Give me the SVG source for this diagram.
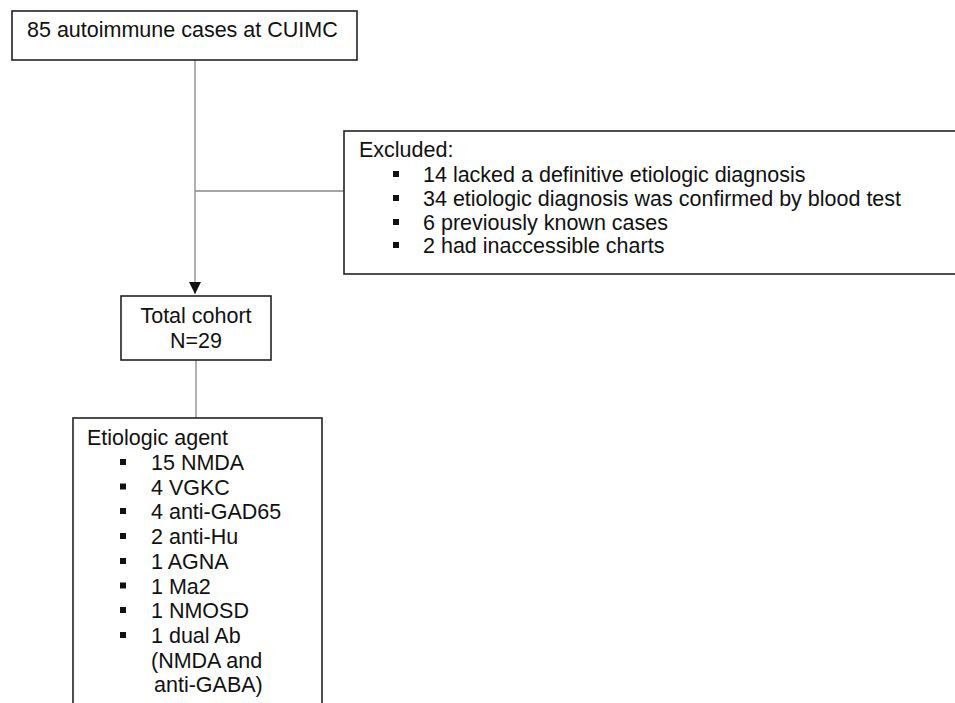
<svg xmlns="http://www.w3.org/2000/svg" width="955" height="703" viewBox="0 0 955 703">
<style>
.box{fill:#fff;stroke:#222;stroke-width:1.6}
.t{font-family:"Liberation Sans",Arial,sans-serif;font-size:21.5px;fill:#111}
.c{fill:none;stroke:#888;stroke-width:1.3}
.b{fill:#111}
</style>
<defs>
<marker id="arr" markerWidth="12" markerHeight="12" refX="10" refY="5" orient="auto" markerUnits="userSpaceOnUse" viewBox="0 0 10 10">
<path d="M0,0 L10,5 L0,10 Z" fill="#111"/>
</marker>
</defs>
<rect width="955" height="703" fill="#fff"/>
<g id="connectors">
<line class="c" x1="195" y1="60" x2="195" y2="294" marker-end="url(#arr)"/>
<line class="c" x1="195" y1="191" x2="344" y2="191"/>
<line class="c" x1="196" y1="360" x2="196" y2="418"/>
</g>
<g id="node-start">
<rect class="box" x="12" y="11" width="345" height="49"/>
<text class="t" x="27" y="37">85 autoimmune cases at CUIMC</text>
</g>
<g id="node-excluded">
<rect class="box" x="344" y="131" width="630" height="143"/>
<text class="t" x="359" y="157">Excluded:</text>
<rect class="b" x="393" y="171" width="6" height="6"/>
<text class="t" x="423" y="182">14 lacked a definitive etiologic diagnosis</text>
<rect class="b" x="393" y="195" width="6" height="6"/>
<text class="t" x="423" y="206">34 etiologic diagnosis was confirmed by blood test</text>
<rect class="b" x="393" y="219" width="6" height="6"/>
<text class="t" x="423" y="230">6 previously known cases</text>
<rect class="b" x="393" y="242" width="6" height="6"/>
<text class="t" x="423" y="253">2 had inaccessible charts</text>
</g>
<g id="node-cohort">
<rect class="box" x="121" y="296" width="150" height="64"/>
<text class="t" x="196" y="323" text-anchor="middle">Total cohort</text>
<text class="t" x="196" y="348" text-anchor="middle">N=29</text>
</g>
<g id="node-agent">
<rect class="box" x="73" y="418" width="249" height="300"/>
<text class="t" x="87" y="445">Etiologic agent</text>
<rect class="b" x="120" y="459" width="6" height="6"/>
<text class="t" x="151" y="470">15 NMDA</text>
<rect class="b" x="120" y="483.5" width="6" height="6"/>
<text class="t" x="151" y="494.5">4 VGKC</text>
<rect class="b" x="120" y="508" width="6" height="6"/>
<text class="t" x="151" y="519">4 anti-GAD65</text>
<rect class="b" x="120" y="533" width="6" height="6"/>
<text class="t" x="151" y="544">2 anti-Hu</text>
<rect class="b" x="120" y="558" width="6" height="6"/>
<text class="t" x="151" y="569">1 AGNA</text>
<rect class="b" x="120" y="582.5" width="6" height="6"/>
<text class="t" x="151" y="593.5">1 Ma2</text>
<rect class="b" x="120" y="607" width="6" height="6"/>
<text class="t" x="151" y="618">1 NMOSD</text>
<rect class="b" x="120" y="632" width="6" height="6"/>
<text class="t" x="151" y="643">1 dual Ab</text>
<text class="t" x="151" y="667.5">(NMDA and</text>
<text class="t" x="154" y="692">anti-GABA)</text>
</g>
</svg>
